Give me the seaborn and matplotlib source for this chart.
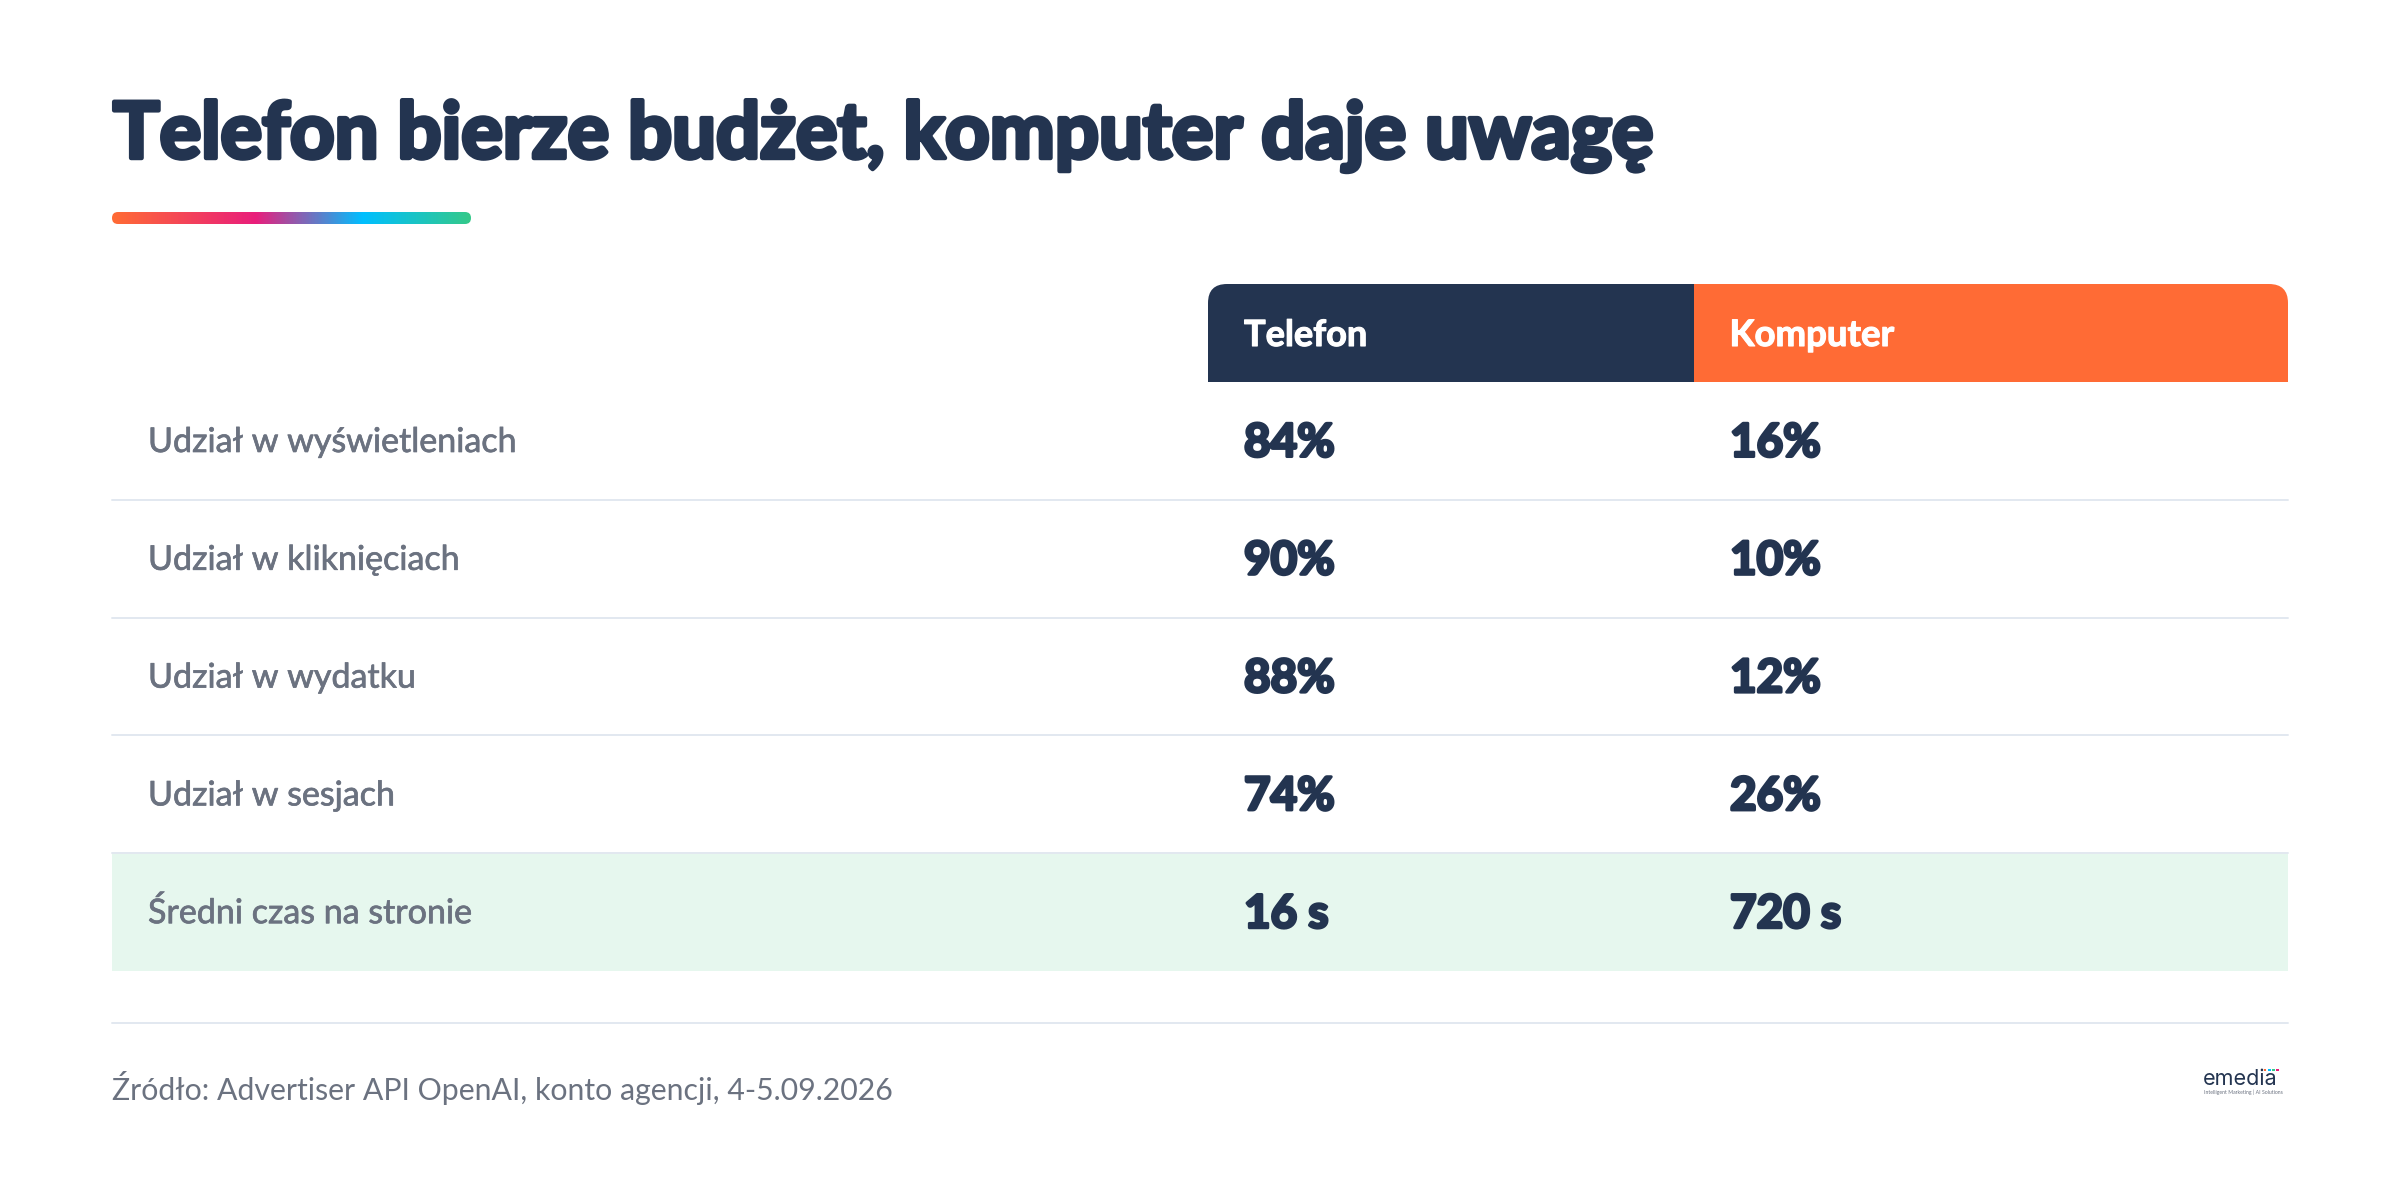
import numpy as np
import seaborn as sns
import matplotlib.pyplot as plt
import matplotlib.patheffects as pe
from matplotlib.colors import ListedColormap, LinearSegmentedColormap
from matplotlib.patches import Rectangle, FancyBboxPatch

title = 'Telefon bierze budżet, komputer daje uwagę'
source = 'Źródło: Advertiser API OpenAI, konto agencji, 4-5.09.2026'
columns = ['Telefon', 'Komputer']
metrics = ['Udział w wyświetleniach', 'Udział w kliknięciach', 'Udział w wydatku',
           'Udział w sesjach', 'Średni czas na stronie']
telefon = ['84%', '90%', '88%', '74%', '16 s']
komputer = ['16%', '10%', '12%', '26%', '720 s']
highlight = [[0], [0], [0], [0], [1]]

NAVY = '#233450'
ORANGE = '#FF6B35'
GREY = '#6B7280'
RULE = '#E2E8F0'
MINT = '#E6F7EE'

sns.set_theme(style='white')
plt.rcParams['font.family'] = ['Lato', 'DejaVu Sans']

W, H = 2400, 1178
LEFT, RIGHT = 112, 2288
HEAD_TOP, HEAD_BOTTOM = 284, 382
ROW_H = 117.8
COL_1, COL_2 = 1208, 1694


# Lato stops at bold here, so heavier text gets a thin outline of its own colour
def heavy(width, color):
    return [pe.Stroke(linewidth=width, foreground=color), pe.Normal()]


fig = plt.figure(figsize=(W / 100, H / 100), dpi=100, facecolor='white')

# row backgrounds come from a one column heatmap
ax_rows = fig.add_axes([LEFT / W, 1 - (HEAD_BOTTOM + 5 * ROW_H) / H,
                        (RIGHT - LEFT) / W, 5 * ROW_H / H])
sns.heatmap(np.array(highlight), cmap=ListedColormap(['white', MINT]), cbar=False,
            xticklabels=False, yticklabels=False, ax=ax_rows)

# overlay in pixel coordinates for everything else
ax = fig.add_axes([0, 0, 1, 1])
ax.patch.set_alpha(0)

# gradient accent under the title
accent = LinearSegmentedColormap.from_list(
    'accent', [(0, ORANGE), (0.4, '#E91E7B'), (0.7, '#00BFFF'), (1, '#34C98A')])
bar_img = ax.imshow(np.linspace(0, 1, 400).reshape(1, -1), cmap=accent, aspect='auto',
                    extent=(112, 471, 224, 212))
bar_clip = FancyBboxPatch((112, 212), 359, 12, boxstyle='round,pad=0,rounding_size=6',
                          fc='none', ec='none')
ax.add_patch(bar_clip)
bar_img.set_clip_path(bar_clip)

ax.set_xlim(0, W)
ax.set_ylim(H, 0)
ax.axis('off')

# header cells, only the outer top corners are rounded
head_clip = FancyBboxPatch((COL_1, HEAD_TOP), RIGHT - COL_1, 140,
                           boxstyle='round,pad=0,rounding_size=19', fc='none', ec='none')
ax.add_patch(head_clip)
for x0, x1, color in [(COL_1, COL_2, NAVY), (COL_2, RIGHT, ORANGE)]:
    cell = Rectangle((x0, HEAD_TOP), x1 - x0, HEAD_BOTTOM - HEAD_TOP, fc=color, ec='none')
    ax.add_patch(cell)
    cell.set_clip_path(head_clip)

ax.text(113, 158, title, color=NAVY, fontsize=56, fontweight='bold', va='baseline',
        path_effects=heavy(3.2, NAVY))
ax.text(1244, 346, columns[0], color='white', fontsize=26, fontweight='bold', va='baseline',
        path_effects=heavy(0.8, 'white'))
ax.text(1729.5, 346, columns[1], color='white', fontsize=26.3, fontweight='bold', va='baseline',
        path_effects=heavy(0.8, 'white'))

for i, (metric, tel, kom) in enumerate(zip(metrics, telefon, komputer)):
    top = HEAD_BOTTOM + i * ROW_H
    ax.text(148, top + 70, metric, color=GREY, fontsize=24.5, va='baseline',
            path_effects=heavy(0.5, GREY))
    ax.text(1244, top + 74.5, tel, color=NAVY, fontsize=33, fontweight='bold', va='baseline',
            path_effects=heavy(2.2, NAVY))
    ax.text(1730, top + 74.5, kom, color=NAVY, fontsize=33, fontweight='bold', va='baseline',
            path_effects=heavy(2.2, NAVY))
    if i < len(metrics) - 1:
        ax.plot([LEFT, RIGHT], [top + ROW_H] * 2, color=RULE, lw=1.4)

# footer
ax.plot([LEFT, RIGHT], [1022.5, 1022.5], color=RULE, lw=1.4)
ax.text(112, 1100, source, color=GREY, fontsize=21.8, va='baseline')

# logo
ax.text(2203, 1085, 'emedia', color=NAVY, fontsize=15.5, family='Inter', va='baseline')
ax.text(2204, 1094, 'Intelligent Marketing | AI Solutions', color=GREY, fontsize=3.7, va='baseline')
for x, color in zip([2265, 2269.3, 2273.4, 2277.7], [ORANGE, '#00BFFF', '#34C98A', '#E91E7B']):
    ax.add_patch(Rectangle((x - 1.3, 1068.7), 2.6, 2.6, fc=color, ec='none'))

fig.savefig('out.png', dpi=100)
